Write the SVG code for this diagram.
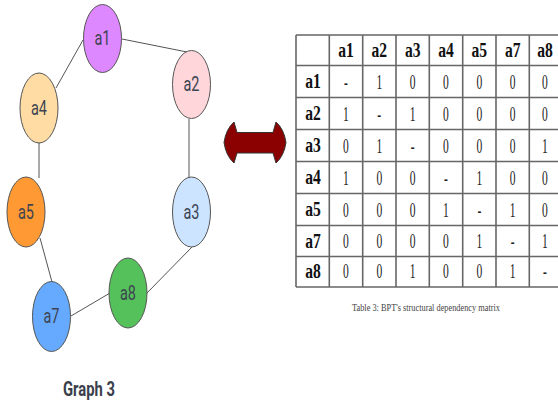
<svg xmlns="http://www.w3.org/2000/svg" width="558" height="406" viewBox="0 0 558 406">
<style>
.node ellipse{stroke:#555;stroke-width:1}
.node text{font-family:Roboto,"Liberation Sans",sans-serif;font-size:21px;fill:#3d4451;text-anchor:middle}
.edge{stroke:#555;stroke-width:1;fill:none}
.grid line{stroke:#666;stroke-width:1.6}
.hd{font-family:"Liberation Serif",serif;font-weight:bold;font-size:20px;fill:#111;text-anchor:middle}
.bd{font-family:"Liberation Serif",serif;font-size:21px;fill:#222;text-anchor:middle}
</style>
<rect width="558" height="406" fill="#fff"/>
<g id="connectors">
<line class="edge" x1="83" y1="40" x2="56" y2="88"/>
<line class="edge" x1="122" y1="39" x2="187" y2="52"/>
<line class="edge" x1="189" y1="119" x2="189" y2="178"/>
<line class="edge" x1="39" y1="143" x2="39" y2="178"/>
<line class="edge" x1="40" y1="238" x2="52" y2="282"/>
<line class="edge" x1="71" y1="316" x2="110" y2="293"/>
<line class="edge" x1="147" y1="293" x2="192" y2="247"/>
</g>
<g id="a1" class="node"><ellipse cx="102.5" cy="38.5" rx="19" ry="34" fill="#dd88ff"/><text x="102.5" y="45" textLength="16" lengthAdjust="spacingAndGlyphs">a1</text></g>
<g id="a2" class="node"><ellipse cx="191.5" cy="84.5" rx="19" ry="34" fill="#ffd6da"/><text x="191.5" y="91" textLength="16" lengthAdjust="spacingAndGlyphs">a2</text></g>
<g id="a4" class="node"><ellipse cx="39" cy="108" rx="19" ry="35" fill="#ffdca3"/><text x="39" y="114.5" textLength="16" lengthAdjust="spacingAndGlyphs">a4</text></g>
<g id="a5" class="node"><ellipse cx="26" cy="212" rx="19" ry="35" fill="#ff9933"/><text x="26" y="218.5" textLength="16" lengthAdjust="spacingAndGlyphs">a5</text></g>
<g id="a3" class="node"><ellipse cx="191.5" cy="212" rx="19" ry="35" fill="#cce4ff"/><text x="191.5" y="218.5" textLength="16" lengthAdjust="spacingAndGlyphs">a3</text></g>
<g id="a8" class="node"><ellipse cx="128" cy="293" rx="19" ry="35" fill="#55c15a"/><text x="128" y="299.5" textLength="16" lengthAdjust="spacingAndGlyphs">a8</text></g>
<g id="a7" class="node"><ellipse cx="51.5" cy="316.5" rx="19" ry="35" fill="#66aaff"/><text x="51.5" y="323" textLength="16" lengthAdjust="spacingAndGlyphs">a7</text></g>
<text x="89" y="396" font-family="Roboto,'Liberation Sans',sans-serif" font-weight="bold" font-size="20" fill="#3a3f4b" text-anchor="middle" textLength="52" lengthAdjust="spacingAndGlyphs">Graph 3</text>
<g id="arrow"><path d="M224,142.5 Q226,129 234,122 L237,132.5 L273,132.5 L276,122 Q284,129 286,142.5 Q284,156 276,163 L273,153 L237,153 L234,163 Q226,156 224,142.5 Z" fill="#8b0000" stroke="#333" stroke-width="1"/></g>
<g id="table">
<g class="grid">
<line x1="296" y1="35" x2="558" y2="35"/>
<line x1="296" y1="65.5" x2="558" y2="65.5"/>
<line x1="296" y1="97.5" x2="558" y2="97.5"/>
<line x1="296" y1="129.5" x2="558" y2="129.5"/>
<line x1="296" y1="161.5" x2="558" y2="161.5"/>
<line x1="296" y1="193.5" x2="558" y2="193.5"/>
<line x1="296" y1="225.5" x2="558" y2="225.5"/>
<line x1="296" y1="256.5" x2="558" y2="256.5"/>
<line x1="296" y1="287" x2="558" y2="287"/>
<line x1="296" y1="35" x2="296" y2="287"/>
<line x1="329.3" y1="35" x2="329.3" y2="287"/>
<line x1="362.7" y1="35" x2="362.7" y2="287"/>
<line x1="396" y1="35" x2="396" y2="287"/>
<line x1="429.3" y1="35" x2="429.3" y2="287"/>
<line x1="462.7" y1="35" x2="462.7" y2="287"/>
<line x1="496" y1="35" x2="496" y2="287"/>
<line x1="529.3" y1="35" x2="529.3" y2="287"/>
</g>
<g transform="scale(0.78,1)" class="hd">
<text x="443.6" y="57.5">a1</text><text x="486.3" y="57.5">a2</text><text x="529.1" y="57.5">a3</text><text x="571.8" y="57.5">a4</text><text x="614.5" y="57.5">a5</text><text x="657.3" y="57.5">a7</text><text x="698.7" y="57.5">a8</text>
<text x="401.3" y="88.5">a1</text><text x="401.3" y="120.5">a2</text><text x="401.3" y="152.5">a3</text><text x="401.3" y="184.5">a4</text><text x="401.3" y="216.5">a5</text><text x="401.3" y="248">a7</text><text x="401.3" y="278">a8</text>
</g>
<g transform="scale(0.55,1)" class="bd">
<g transform="translate(0,88.5)"><text x="629.1">-</text><text x="689.6">1</text><text x="750.4">0</text><text x="810.9">0</text><text x="871.5">0</text><text x="932.2">0</text><text x="990.9">0</text></g>
<g transform="translate(0,120.5)"><text x="629.1">1</text><text x="689.6">-</text><text x="750.4">1</text><text x="810.9">0</text><text x="871.5">0</text><text x="932.2">0</text><text x="990.9">0</text></g>
<g transform="translate(0,152.5)"><text x="629.1">0</text><text x="689.6">1</text><text x="750.4">-</text><text x="810.9">0</text><text x="871.5">0</text><text x="932.2">0</text><text x="990.9">1</text></g>
<g transform="translate(0,184.5)"><text x="629.1">1</text><text x="689.6">0</text><text x="750.4">0</text><text x="810.9">-</text><text x="871.5">1</text><text x="932.2">0</text><text x="990.9">0</text></g>
<g transform="translate(0,216.5)"><text x="629.1">0</text><text x="689.6">0</text><text x="750.4">0</text><text x="810.9">1</text><text x="871.5">-</text><text x="932.2">1</text><text x="990.9">0</text></g>
<g transform="translate(0,248)"><text x="629.1">0</text><text x="689.6">0</text><text x="750.4">0</text><text x="810.9">0</text><text x="871.5">1</text><text x="932.2">-</text><text x="990.9">1</text></g>
<g transform="translate(0,278)"><text x="629.1">0</text><text x="689.6">0</text><text x="750.4">1</text><text x="810.9">0</text><text x="871.5">0</text><text x="932.2">1</text><text x="990.9">-</text></g>
</g>
<text x="426" y="311" font-family="'Liberation Serif',serif" font-size="10" fill="#444" text-anchor="middle" textLength="148" lengthAdjust="spacingAndGlyphs">Table 3: BPT's structural dependency matrix</text>
</g>
</svg>
